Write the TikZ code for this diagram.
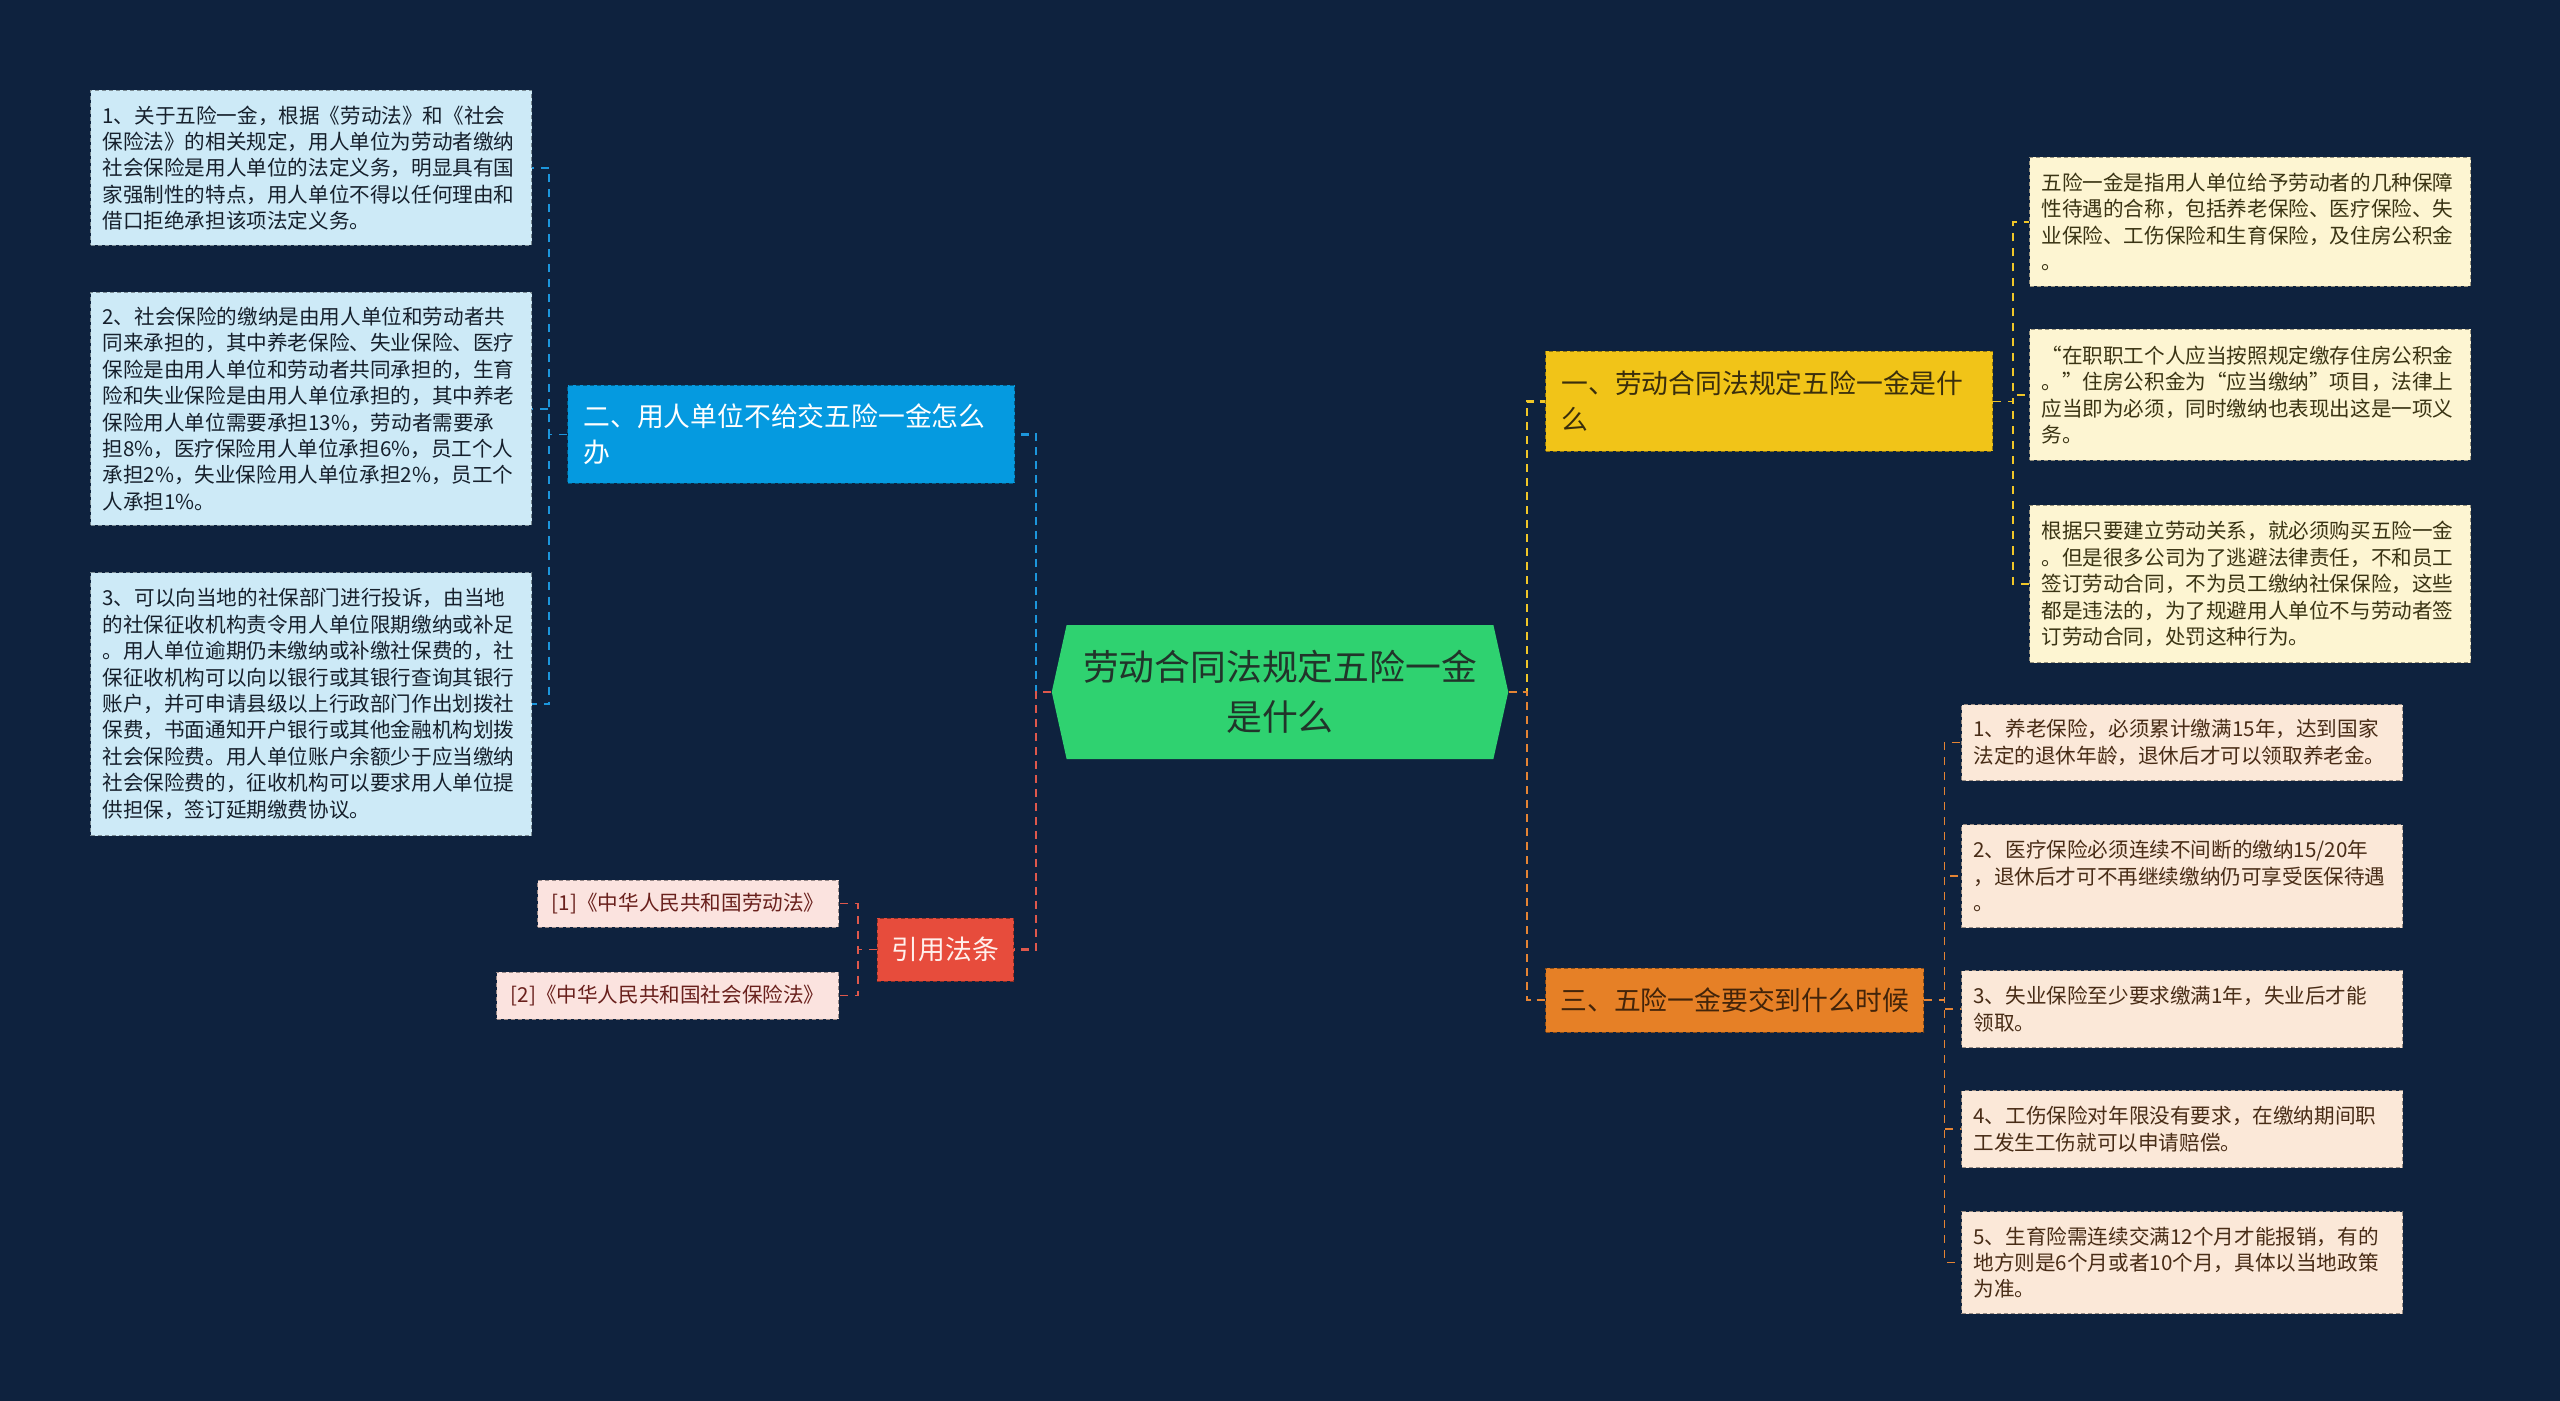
\documentclass[tikz,border=0pt]{standalone}
\usepackage{fontspec}
\setmainfont{Noto Sans CJK SC}
\usetikzlibrary{positioning,shapes.symbols}

\definecolor{bgnavy}{RGB}{14,34,62}
\definecolor{hubgreen}{RGB}{47,210,112}
\definecolor{hubtext}{RGB}{33,52,42}
\definecolor{unpaidfill}{RGB}{5,154,224}
\definecolor{whatfill}{RGB}{241,196,24}
\definecolor{whattext}{RGB}{58,46,12}
\definecolor{whenfill}{RGB}{230,128,38}
\definecolor{whentext}{RGB}{66,36,10}
\definecolor{lawfill}{RGB}{231,76,60}
\definecolor{lawtext}{RGB}{255,240,236}
\definecolor{lfill}{RGB}{205,234,247}
\definecolor{ltext}{RGB}{22,32,44}
\definecolor{rfill}{RGB}{253,245,210}
\definecolor{rtext}{RGB}{58,52,20}
\definecolor{sfill}{RGB}{251,232,216}
\definecolor{stext}{RGB}{72,44,22}
\definecolor{citefill}{RGB}{251,227,223}
\definecolor{citetext}{RGB}{105,32,28}
\definecolor{unpaidline}{RGB}{28,150,220}
\definecolor{lawline}{RGB}{222,88,76}
\definecolor{whatline}{RGB}{240,198,40}
\definecolor{whenline}{RGB}{228,132,52}

\begin{document}
\begin{tikzpicture}[x=0.5pt, y=-0.5pt,
    hub/.style={shape=signal, signal to=west and east, signal pointer angle=155,
        fill=hubgreen, text=hubtext, align=center, inner xsep=8.25pt,
        minimum height=67pt, font=\fontsize{17.9}{25}\selectfont},
    tag/.style 2 args={fill=#1, draw=#1!60!black, text=#2,
        dash pattern=on 2pt off 1.5pt, line width=0.5pt, inner ysep=2pt},
    branch/.style 2 args={tag={#1}{#2}, align=left, font=\fontsize{13.4}{18}\selectfont},
    leaf/.style 2 args={tag={#1}{#2}, align=left, text width=208.5pt, inner xsep=6pt,
        font=\fontsize{10.3}{13.2}\selectfont},
    cite/.style={tag={citefill}{citetext}, inner xsep=7pt, minimum height=23.5pt,
        font=\fontsize{10.3}{13.2}\selectfont},
    link/.style={draw=#1, line width=1.1pt, dash pattern=on 4pt off 3pt},
    twig/.style={draw=#1, line width=0.8pt, dash pattern=on 4pt off 3.5pt}
]
    \fill[bgnavy] (0,0) rectangle (2560,1401);

    \node[hub] (mainnode) at (1280,692) {劳动合同法规定五险一金\\是什么};

    \node[branch={unpaidfill}{white}, anchor=north west, text width=207.5pt,
        inner xsep=8pt, minimum height=49pt] (unpaidnode) at (567,385)
        {二、用人单位不给交五险一金怎么\\办};
    \node[branch={lawfill}{lawtext}, anchor=east, inner xsep=7.25pt,
        minimum height=31.5pt] (lawnode) at (1014,949.5) {引用法条};
    \node[branch={whatfill}{whattext}, anchor=north west, text width=207.5pt,
        inner xsep=8pt, minimum height=50pt] (whatnode) at (1545,351)
        {一、劳动合同法规定五险一金是什\\么};
    \node[branch={whenfill}{whentext}, anchor=west, inner xsep=7.5pt,
        minimum height=32pt] (whennode) at (1545,1000) {三、五险一金要交到什么时候};

    \node[leaf={lfill}{ltext}, anchor=north west, minimum height=77.5pt] (unpaida) at (90,90) {
        1、关于五险一金，根据《劳动法》和《社会\\
        保险法》的相关规定，用人单位为劳动者缴纳\\
        社会保险是用人单位的法定义务，明显具有国\\
        家强制性的特点，用人单位不得以任何理由和\\
        借口拒绝承担该项法定义务。};
    \node[leaf={lfill}{ltext}, minimum height=116.5pt, below=23pt of unpaida] (unpaidb) {
        2、社会保险的缴纳是由用人单位和劳动者共\\
        同来承担的，其中养老保险、失业保险、医疗\\
        保险是由用人单位和劳动者共同承担的，生育\\
        险和失业保险是由用人单位承担的，其中养老\\
        保险用人单位需要承担13\%，劳动者需要承\\
        担8\%，医疗保险用人单位承担6\%，员工个人\\
        承担2\%，失业保险用人单位承担2\%，员工个\\
        人承担1\%。};
    \node[leaf={lfill}{ltext}, minimum height=131.5pt, below=23pt of unpaidb] (unpaidc) {
        3、可以向当地的社保部门进行投诉，由当地\\
        的社保征收机构责令用人单位限期缴纳或补足\\
        。用人单位逾期仍未缴纳或补缴社保费的，社\\
        保征收机构可以向以银行或其银行查询其银行\\
        账户，并可申请县级以上行政部门作出划拨社\\
        保费，书面通知开户银行或其他金融机构划拨\\
        社会保险费。用人单位账户余额少于应当缴纳\\
        社会保险费的，征收机构可以要求用人单位提\\
        供担保，签订延期缴费协议。};

    \node[cite, anchor=east] (lawa) at (839,903.5) {[1]《中华人民共和国劳动法》};
    \node[cite, below=22pt of lawa.south east, anchor=north east] (lawb) {[2]《中华人民共和国社会保险法》};

    \node[leaf={rfill}{rtext}, anchor=north west, minimum height=64.5pt] (whata) at (2029,157) {
        五险一金是指用人单位给予劳动者的几种保障\\
        性待遇的合称，包括养老保险、医疗保险、失\\
        业保险、工伤保险和生育保险，及住房公积金\\
        。};
    \node[leaf={rfill}{rtext}, minimum height=65.5pt, below=21pt of whata] (whatb) {
        “在职职工个人应当按照规定缴存住房公积金\\
        。”住房公积金为“应当缴纳”项目，法律上\\
        应当即为必须，同时缴纳也表现出这是一项义\\
        务。};
    \node[leaf={rfill}{rtext}, minimum height=78.5pt, below=22pt of whatb] (whatc) {
        根据只要建立劳动关系，就必须购买五险一金\\
        。但是很多公司为了逃避法律责任，不和员工\\
        签订劳动合同，不为员工缴纳社保保险，这些\\
        都是违法的，为了规避用人单位不与劳动者签\\
        订劳动合同，处罚这种行为。};

    \node[leaf={sfill}{stext}, anchor=north west, minimum height=38pt] (whena) at (1961,704) {
        1、养老保险，必须累计缴满15年，达到国家\\
        法定的退休年龄，退休后才可以领取养老金。};
    \node[leaf={sfill}{stext}, minimum height=51.5pt, below=21.5pt of whena] (whenb) {
        2、医疗保险必须连续不间断的缴纳15/20年\\
        ，退休后才可不再继续缴纳仍可享受医保待遇\\
        。};
    \node[leaf={sfill}{stext}, minimum height=38.5pt, below=21pt of whenb] (whenc) {
        3、失业保险至少要求缴满1年，失业后才能\\
        领取。};
    \node[leaf={sfill}{stext}, minimum height=38.5pt, below=21pt of whenc] (whend) {
        4、工伤保险对年限没有要求，在缴纳期间职\\
        工发生工伤就可以申请赔偿。};
    \node[leaf={sfill}{stext}, minimum height=51pt, below=21.5pt of whend] (whene) {
        5、生育险需连续交满12个月才能报销，有的\\
        地方则是6个月或者10个月，具体以当地政策\\
        为准。};

    \draw[link=unpaidline] (mainnode.west) -- ++(-15,0) |- (unpaidnode.east);
    \draw[link=lawline] (mainnode.west) -- ++(-15,0) |- (lawnode.east);
    \draw[link=whatline] (mainnode.east) -- ++(18,0) |- (whatnode.west);
    \draw[link=whenline] (mainnode.east) -- ++(18,0) |- (whennode.west);

    \foreach \n in {unpaida,unpaidb,unpaidc}
        \draw[twig=unpaidline] (unpaidnode.west) -- ++(-18,0) |- (\n.east);
    \foreach \n in {lawa,lawb}
        \draw[twig=lawline] (lawnode.west) -- ++(-19,0) |- (\n.east);
    \foreach \n in {whata,whatb,whatc}
        \draw[twig=whatline] (whatnode.east) -- ++(20,0) |- (\n.west);
    \foreach \n in {whena,whenb,whenc,whend,whene}
        \draw[twig=whenline] (whennode.east) -- ++(20,0) |- (\n.west);
\end{tikzpicture}
\end{document}
